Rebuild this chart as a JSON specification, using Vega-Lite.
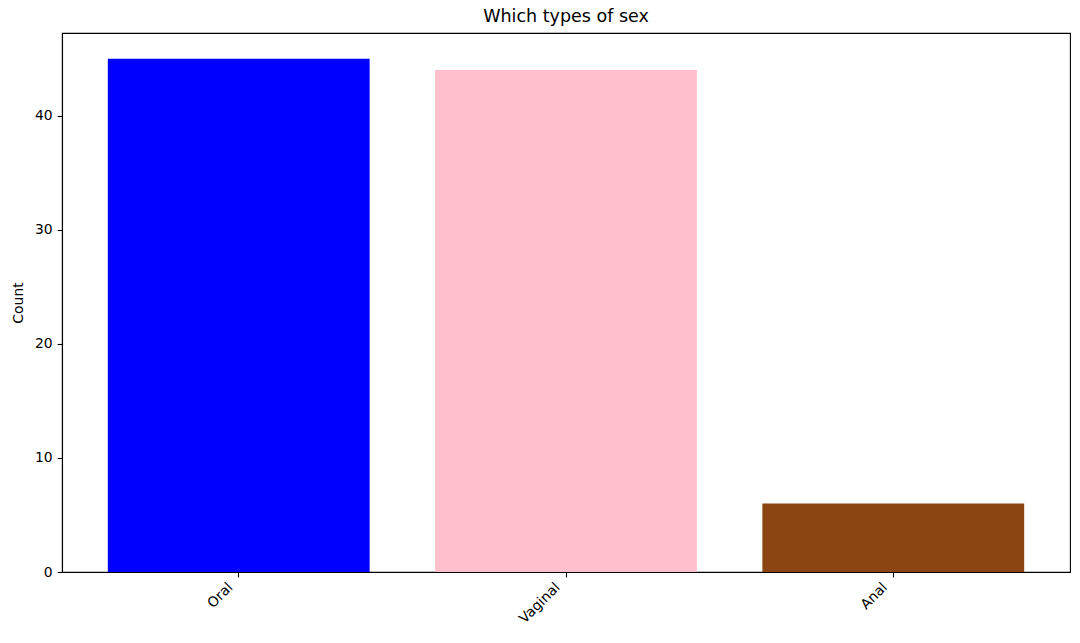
{
  "$schema": "https://vega.github.io/schema/vega-lite/v6.json",
  "width": 1008,
  "height": 539,
  "autosize": {"type": "none"},
  "padding": {"left": 62, "top": 33, "right": 10, "bottom": 71},
  "background": "white",
  "title": {
    "text": "Which types of sex",
    "font": "DejaVu Sans",
    "fontSize": 17.5,
    "fontWeight": "normal",
    "color": "black",
    "offset": 8
  },
  "config": {
    "view": {"stroke": "black", "strokeWidth": 1.1},
    "axis": {
      "labelFont": "DejaVu Sans",
      "titleFont": "DejaVu Sans",
      "labelFontSize": 13.9,
      "titleFontSize": 13.9,
      "titleFontWeight": "normal",
      "labelColor": "black",
      "titleColor": "black",
      "domainColor": "black",
      "tickColor": "black",
      "tickSize": 4.9,
      "tickWidth": 1.1,
      "domainWidth": 1.1,
      "labelPadding": 4.9,
      "grid": false
    }
  },
  "data": {
    "values": [
      {"type": "Oral", "count": 45},
      {"type": "Vaginal", "count": 44},
      {"type": "Anal", "count": 6}
    ]
  },
  "mark": {"type": "bar"},
  "encoding": {
    "x": {
      "field": "type",
      "type": "nominal",
      "sort": ["Oral", "Vaginal", "Anal"],
      "scale": {"paddingInner": 0.2, "paddingOuter": 0.14},
      "axis": {
        "title": null,
        "labelAngle": -45,
        "labelAlign": "right",
        "labelBaseline": "top",
        "labelOffset": -13,
        "labelPadding": 3
      }
    },
    "y": {
      "field": "count",
      "type": "quantitative",
      "scale": {"domain": [0, 47.25], "nice": false},
      "axis": {"title": "Count", "values": [0, 10, 20, 30, 40], "titlePadding": 9}
    },
    "color": {
      "field": "type",
      "type": "nominal",
      "scale": {"domain": ["Oral", "Vaginal", "Anal"], "range": ["#0000ff", "#ffc0cb", "#8b4513"]},
      "legend": null
    }
  }
}
